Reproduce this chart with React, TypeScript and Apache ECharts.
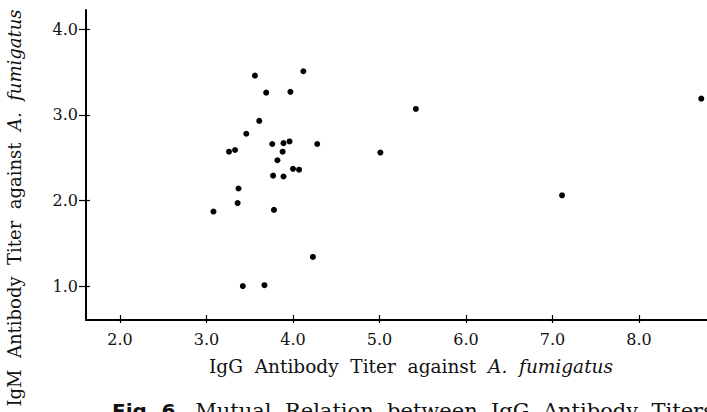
import React, { useEffect, useRef } from "react";
import * as echarts from "echarts";

const iggTiter = [3.56, 4.12, 3.69, 3.97, 3.61, 3.46, 3.76, 3.89, 3.96, 4.28, 3.26, 3.33, 3.88, 3.82, 4.0, 4.07, 3.77, 3.89, 3.37, 3.36, 3.08, 3.78, 4.23, 3.42, 3.67, 5.42, 5.01, 7.11, 8.72];
const igmTiter = [3.46, 3.51, 3.26, 3.27, 2.93, 2.78, 2.66, 2.67, 2.69, 2.66, 2.57, 2.59, 2.57, 2.47, 2.37, 2.36, 2.29, 2.28, 2.14, 1.97, 1.87, 1.89, 1.34, 1.0, 1.01, 3.07, 2.56, 2.06, 3.19];
const xTicks = [2, 3, 4, 5, 6, 7, 8];
const yTicks = [1, 2, 3, 4];
const xTitle = ["IgG  Antibody  Titer  against  ", "A.  fumigatus"];
const yTitle = ["IgM  Antibody  Titer  against  ", "A.  fumigatus"];
const caption = ["Fig. 6", "   Mutual  Relation  between  IgG  Antibody  Titers"];

const SERIF = "'DejaVu Serif', 'Liberation Serif', serif";

export default function App() {
  const ref = useRef<HTMLDivElement>(null);
  useEffect(() => {
    if (!ref.current) return;
    const chart = echarts.init(ref.current, undefined, { renderer: "svg" });
    const points = iggTiter.map((x, i) => [x, igmTiter[i]]);
    const fmt = (v: number) => v.toFixed(1);
    chart.setOption({
      animation: false,
      backgroundColor: "#ffffff",
      grid: { left: 86, top: 10, right: 0, bottom: 92, containLabel: false },
      xAxis: [
        {
          type: "value",
          min: 1.607,
          max: 8.786,
          splitLine: { show: false },
          axisLine: { show: true, lineStyle: { color: "#000", width: 2 } },
          axisTick: { show: true, inside: true, length: 5, customValues: xTicks, lineStyle: { color: "#000", width: 1.2 } },
          axisLabel: { show: true, customValues: xTicks, formatter: fmt, margin: 11, color: "#111", fontFamily: SERIF, fontSize: 16 },
        },
        {
          type: "value",
          position: "bottom",
          min: 1.607,
          max: 8.786,
          splitLine: { show: false },
          axisLine: { show: false },
          axisTick: { show: true, inside: false, length: 3, customValues: xTicks, lineStyle: { color: "#000", width: 1.2 } },
          axisLabel: { show: false },
        },
      ],
      yAxis: [
        {
          type: "value",
          min: 0.603,
          max: 4.226,
          splitLine: { show: false },
          axisLine: { show: true, lineStyle: { color: "#000", width: 2 } },
          axisTick: { show: true, inside: false, length: 7, customValues: yTicks, lineStyle: { color: "#000", width: 1.2 } },
          axisLabel: { show: true, customValues: yTicks, formatter: fmt, margin: 8, color: "#111", fontFamily: SERIF, fontSize: 16 },
        },
        {
          type: "value",
          position: "left",
          min: 0.603,
          max: 4.226,
          splitLine: { show: false },
          axisLine: { show: false },
          axisTick: { show: true, inside: true, length: 4, customValues: yTicks, lineStyle: { color: "#000", width: 1.2 } },
          axisLabel: { show: false },
        },
      ],
      series: [
        {
          type: "scatter",
          data: points,
          symbol: "circle",
          symbolSize: 6,
          itemStyle: { color: "#000", opacity: 1 },
        },
      ],
      graphic: [
        {
          type: "text",
          x: 411,
          y: 366,
          style: {
            text: `{n|${xTitle[0]}}{i|${xTitle[1]}}`,
            textAlign: "center",
            textVerticalAlign: "middle",
            rich: {
              n: { fontFamily: SERIF, fontSize: 18.5, fill: "#111" },
              i: { fontFamily: SERIF, fontSize: 18.5, fontStyle: "italic", fill: "#111" },
            },
          },
        },
        {
          type: "text",
          x: 14,
          y: 208,
          rotation: Math.PI / 2,
          style: {
            text: `{n|${yTitle[0]}}{i|${yTitle[1]}}`,
            textAlign: "center",
            textVerticalAlign: "middle",
            rich: {
              n: { fontFamily: SERIF, fontSize: 18, fill: "#111" },
              i: { fontFamily: SERIF, fontSize: 18, fontStyle: "italic", fill: "#111" },
            },
          },
        },
        {
          type: "text",
          x: 112,
          y: 400,
          style: {
            text: `{b|${caption[0]}}{n|${caption[1]}}`,
            textAlign: "left",
            textVerticalAlign: "top",
            rich: {
              b: { fontFamily: "'DejaVu Sans', sans-serif", fontWeight: "bold", fontSize: 20, fill: "#111" },
              n: { fontFamily: SERIF, fontSize: 21, fill: "#111" },
            },
          },
        },
      ],
    });
    return () => chart.dispose();
  }, []);
  return <div ref={ref} style={{ position: "absolute", left: 0, top: 0, width: 707, height: 412 }} />;
}
